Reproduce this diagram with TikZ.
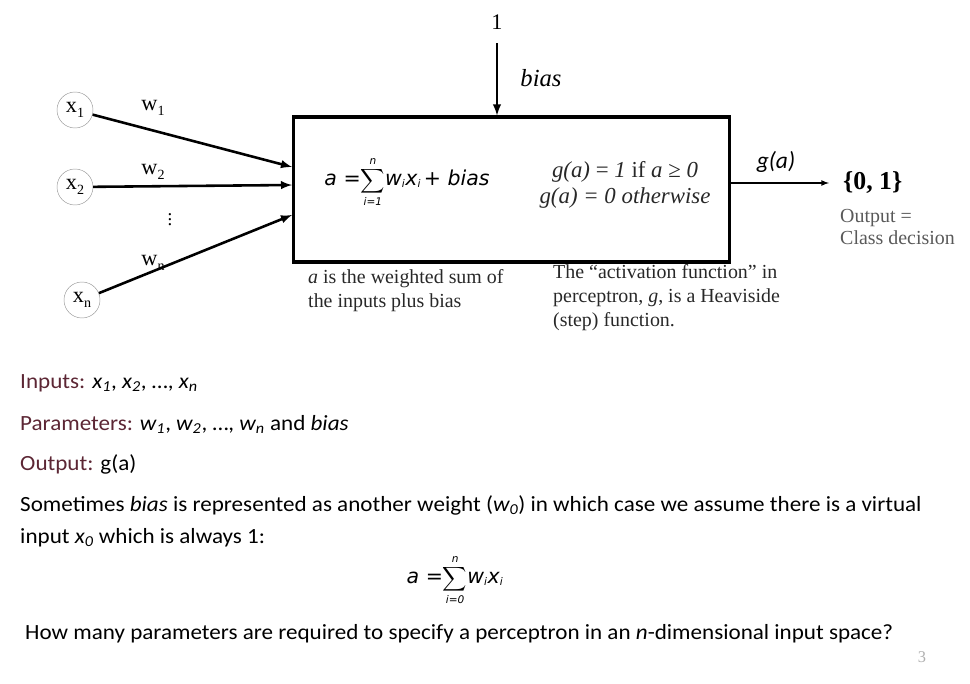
\documentclass[tikz,border=0pt]{standalone}
\usepackage{amsmath}
\usepackage{fontspec}
\usepackage{graphicx}
\setmainfont{Liberation Serif}
\newfontfamily\calfont{Carlito}
\newfontfamily\verfont{DejaVu Sans}
\usetikzlibrary{arrows}
\definecolor{labred}{RGB}{92,38,52}
\definecolor{slidegray}{RGB}{175,175,175}
\definecolor{notetext}{RGB}{40,40,40}
\newcommand{\vf}[1]{\mbox{\verfont\itshape\fontsize{17.5}{20}\selectfont #1}}
\newcommand{\vsub}[1]{\mbox{\verfont\itshape\fontsize{9}{10}\selectfont #1}}
\newcommand{\cf}[1]{{\calfont\itshape #1}}
\newcommand{\lowsub}[1]{\raisebox{-0.45ex}{\fontsize{12}{12}\selectfont #1}}
\newcommand{\wide}[1]{\scalebox{1.065}[1]{#1}}

\tikzset{
  unit/.style={circle, draw=gray!80, thin, minimum size=1.08cm, inner sep=0pt, font=\fontsize{19}{20}\selectfont},
  wlabel/.style={font=\fontsize{19}{20}\selectfont},
  note/.style={font=\fontsize{17}{20.5}\selectfont, text=notetext, align=left, anchor=north west, inner sep=0pt},
  slide/.style={font=\calfont\fontsize{18.5}{22}\selectfont, anchor=west, inner sep=0pt},
  formula/.style={font=\fontsize{15}{18}\selectfont, inner sep=0pt},
  feed/.style={-latex, line width=2.2pt}
}

\begin{document}
\begin{tikzpicture}[x=0.03cm,y=-0.03cm]
\useasboundingbox (0,0) rectangle (970,684);

% the unit
\node[draw, line width=2.6pt, minimum width=13.1cm, minimum height=4.35cm] (neuron) at (511.5,189.5) {};
\node[formula] (sum) at (407,182) {$\displaystyle \vf{a =}\!\sum_{\vsub{i=1}}^{\vsub{n}}\! \vf{w}_{\vsub{i}}\vf{x}_{\vsub{i}}\,\vf{+ bias}$};
\node[align=center, text=notetext, font=\fontsize{19.5}{22}\selectfont] (act) at (625,185)
  {\textit{g(a)} = \textit{1} if \textit{a} ≥ \textit{0}\\ \textit{g(a) = 0 otherwise}};

% inputs
\node[unit] (x1) at (75,110) {x\lowsub{1}};
\node[unit] (x2) at (75,187) {x\lowsub{2}};
\node[unit] (xn) at (82,300) {x\lowsub{n}};
\coordinate (in1) at (292,167);
\coordinate (in2) at (292,185);
\coordinate (inn) at (292,215);
\draw[feed] (x1) -- (in1);
\draw[feed] (x2) -- (in2);
\draw[feed] (xn) -- (inn);
\node[wlabel] (w1) at (153,108) {w\lowsub{1}};
\node[wlabel] (w2) at (153,172) {w\lowsub{2}};
\node[wlabel] (wn) at (153,263) {w\lowsub{n}};
\node[font=\fontsize{16}{18}\selectfont] (vdots) at (170,216) {$\vdots$};

% bias
\node[font=\fontsize{19}{20}\selectfont] (one) at (497,22) {1};
\draw[feed] (one.south) ++(0,10) -- (one |- neuron.north);
\node[font=\fontsize{21}{22}\selectfont\itshape] (bias) at (541,78) {bias};

% output
\node[font=\fontsize{22}{24}\selectfont, anchor=west, inner sep=0pt] (out) at (843,183) {\textbf{\{0, 1\}}};
\draw[-latex, line width=1.2pt] (neuron.east |- out) -- ([xshift=-12pt]out.west);
\node[font=\calfont\itshape\fontsize{20}{22}\selectfont] (ga) at (776,162) {g(a)};
\node[note, text=black!65, font=\fontsize{17}{18.7}\selectfont] (decision) at (840,209) {Output =\\Class decision};

% notes under the box
\node[note] (sumnote) at (308,269) {\textit{a} is the weighted sum of\\the inputs plus bias};
\node[note] (actnote) at (553,264) {The “activation function” in\\perceptron, \textit{g}, is a Heaviside\\(step) function.};

% slide text
\node[slide] (inputs) at (20,383) {\wide{\textcolor{labred}{Inputs:} \cf{x\textsubscript{1}}, \cf{x\textsubscript{2}}, …, \cf{x\textsubscript{n}}}};
\node[slide] (params) at (20,424) {\wide{\textcolor{labred}{Parameters:} \cf{w\textsubscript{1}}, \cf{w\textsubscript{2}}, …, \cf{w\textsubscript{n}} and \cf{bias}}};
\node[slide] (output) at (20,464) {\wide{\textcolor{labred}{Output:} g(a)}};
\node[slide] (sometimes) at (20,505) {\wide{Sometimes \cf{bias} is represented as another weight (\cf{w\textsubscript{0}}) in which case we assume there is a virtual}};
\node[slide] (virtual) at (20,538) {\wide{input \cf{x\textsubscript{0}} which is always 1:}};
\node[formula] (sum0) at (455,580) {$\displaystyle \vf{a =}\!\sum_{\vsub{i=0}}^{\vsub{n}}\! \vf{w}_{\vsub{i}}\vf{x}_{\vsub{i}}$};
\node[slide] (question) at (25,634) {\wide{How many parameters are required to specify a perceptron in an \cf{n}-dimensional input space?}};
\node[text=slidegray, font=\fontsize{14}{16}\selectfont] (page) at (922,657) {3};
\end{tikzpicture}
\end{document}
